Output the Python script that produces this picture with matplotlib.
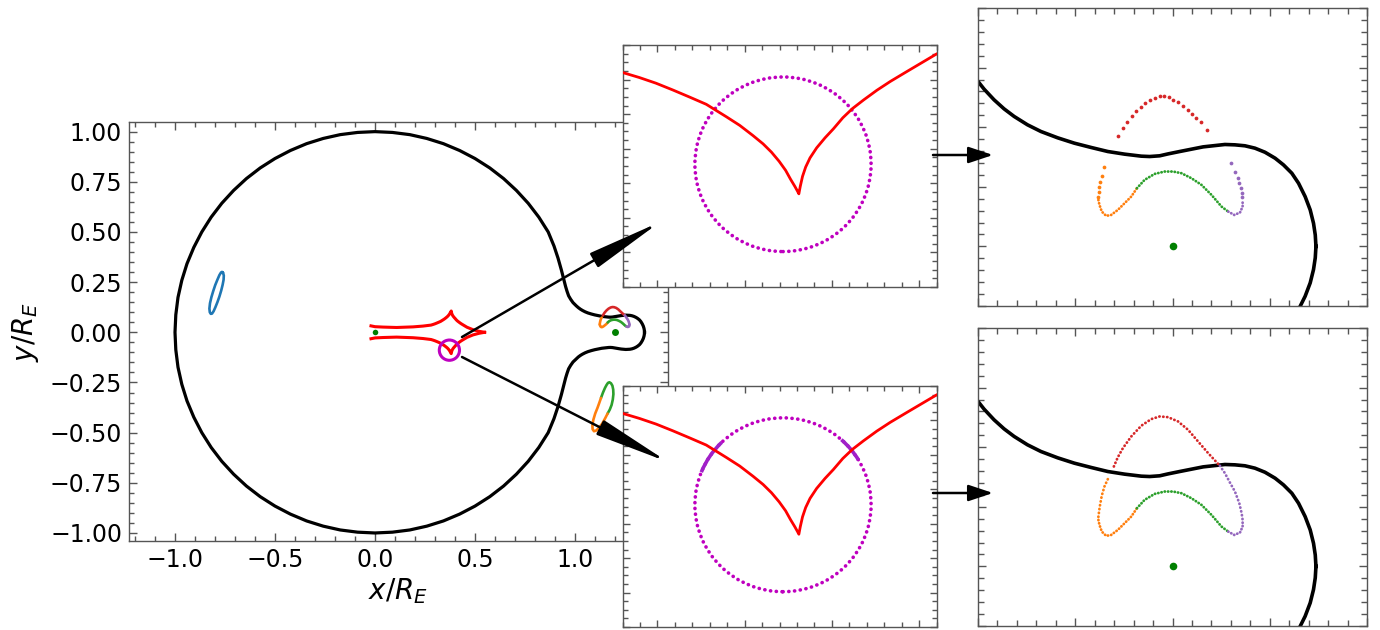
import matplotlib
matplotlib.use('Agg')
import matplotlib.pyplot as plt
from matplotlib.patches import Circle, Arc, FancyArrowPatch
from matplotlib.ticker import MultipleLocator

# ---------------- data ----------------
# critical curve, upper half (lower half is its mirror image about y=0)
crit_upper_x = [1.3475, 1.3468, 1.3450, 1.3416, 1.3364, 1.3296, 1.3227, 1.3141, 1.3055,
                1.2951, 1.2848, 1.2745, 1.2642, 1.2539, 1.2436, 1.2315, 1.2195, 1.2074,
                1.1954, 1.1868, 1.1765, 1.1679, 1.1507, 1.1335, 1.1163, 1.0991, 1.0819,
                1.0647, 1.0509, 1.0372, 1.0268, 1.0165, 1.0062, 1.0000, 0.990, 0.978,
                0.968, 0.960, 0.953, 0.946, 0.932, 0.915, 0.895, 0.866,
                0.819, 0.766, 0.707, 0.643, 0.574, 0.500, 0.423, 0.342, 0.259, 0.174,
                0.087, 0.0, -0.087, -0.174, -0.259, -0.342, -0.423, -0.500, -0.574,
                -0.643, -0.707, -0.766, -0.819, -0.866, -0.906, -0.940, -0.966, -0.985,
                -0.996, -1.0]
crit_upper_y = [0.0, 0.0096, 0.0194, 0.0306, 0.0418, 0.0530, 0.0614, 0.0684, 0.0740,
                0.0790, 0.0824, 0.0844, 0.0852, 0.0855, 0.0846, 0.0835, 0.0816, 0.0796,
                0.0776, 0.0760, 0.0754, 0.0757, 0.0774, 0.0796, 0.0830, 0.0866, 0.0911,
                0.0964, 0.1020, 0.1090, 0.1154, 0.1230, 0.1320, 0.1384, 0.148, 0.165,
                0.182, 0.205, 0.228, 0.255, 0.310, 0.370, 0.430, 0.500,
                0.574, 0.643, 0.707, 0.766, 0.819, 0.866, 0.906, 0.940, 0.966, 0.985,
                0.996, 1.0, 0.996, 0.985, 0.966, 0.940, 0.906, 0.866, 0.819,
                0.766, 0.707, 0.643, 0.574, 0.500, 0.423, 0.342, 0.259, 0.174,
                0.087, 0.0]

# caustic, lower half (upper half is its mirror image)
caus_low_x = [-0.020, 0.000, 0.040, 0.108, 0.190, 0.240, 0.2800, 0.2896, 0.2992, 0.3088,
              0.3184, 0.3280, 0.3395, 0.3472, 0.3548, 0.3606, 0.3654, 0.3698, 0.3735,
              0.3763, 0.3788, 0.3804, 0.3811, 0.3819, 0.3832, 0.3850, 0.3875, 0.3913,
              0.3961, 0.4009, 0.4063, 0.4118, 0.4182, 0.4258, 0.4335, 0.4431, 0.4518,
              0.4600, 0.4900, 0.5200, 0.5480]
caus_low_y = [-0.032, -0.028, -0.026, -0.024, -0.027, -0.031, -0.0359, -0.0388, -0.0421,
              -0.0460, -0.0501, -0.0543, -0.0615, -0.0665, -0.0724, -0.0772, -0.0820,
              -0.0873, -0.0925, -0.0976, -0.1018, -0.1047, -0.1061, -0.1018, -0.0960,
              -0.0906, -0.0853, -0.0795, -0.0737, -0.0685, -0.0621, -0.0568, -0.0518,
              -0.0462, -0.0411, -0.0353, -0.0301, -0.0252, -0.013, -0.005, 0.0]

# source circle
src_center = (0.372, -0.089)
src_radius = 0.0505
# extra-sampled arcs of the source circle (degrees)
src_arcs = [(134, 158), (31, 48.5)]

# lens positions
host_xy = (0.0, 0.0)
planet_xy = (1.2, 0.0)

# images: uniform sampling (sparse dots)
red_u_x = [1.1438, 1.1490, 1.1534, 1.1582, 1.1627, 1.1672, 1.1720, 1.1765, 1.1816, 1.1868,
           1.1913, 1.1961, 1.2009, 1.2057, 1.2109, 1.2160, 1.2202, 1.2246, 1.2291, 1.2350]
red_u_y = [0.0922, 0.0992, 0.1045, 0.1090, 0.1132, 0.1168, 0.1202, 0.1224, 0.1247, 0.1258,
           0.1258, 0.1250, 0.1230, 0.1208, 0.1180, 0.1146, 0.1112, 0.1076, 0.1040, 0.0978]
orange_u_x = [1.1300, 1.1273, 1.1259, 1.1249, 1.1242, 1.1238]
orange_u_y = [0.0670, 0.0594, 0.0544, 0.0502, 0.0460, 0.0418]
purple_u_x = [1.2601, 1.2642, 1.2670, 1.2687, 1.2700, 1.2711, 1.2718]
purple_u_y = [0.0698, 0.0628, 0.0572, 0.0530, 0.0488, 0.0450, 0.0418]

# images: parts common to both samplings (dense)
orange_d_x = [1.1238, 1.1249, 1.1273, 1.1318, 1.1369, 1.1438, 1.1507, 1.1576, 1.1634]
orange_d_y = [0.0390, 0.0348, 0.0292, 0.0256, 0.0264, 0.0306, 0.0362, 0.0418, 0.0488]
green_x = [1.1634, 1.1713, 1.1816, 1.1920, 1.2006, 1.2092, 1.2195, 1.2298, 1.2401, 1.2504, 1.2573]
green_y = [0.0488, 0.0558, 0.0608, 0.0628, 0.0628, 0.0614, 0.0572, 0.0516, 0.0432, 0.0334, 0.0292]
purple_d_x = [1.2573, 1.2635, 1.2694, 1.2721, 1.2721]
purple_d_y = [0.0292, 0.0264, 0.0284, 0.0334, 0.0390]

# images: adaptive sampling (denser near caustic crossings)
red_a_x = [1.1397, 1.1438, 1.1490, 1.1576, 1.1679, 1.1782, 1.1868, 1.1954, 1.2057, 1.2160,
           1.2263, 1.2367, 1.2487]
red_a_y = [0.0838, 0.0916, 0.0992, 0.1090, 0.1180, 0.1236, 0.1258, 0.1252, 0.1216, 0.1146,
           0.1048, 0.0950, 0.0844]
purple_a_x = [1.2487, 1.2539, 1.2590, 1.2642, 1.2687, 1.2711, 1.2721]
purple_a_y = [0.0844, 0.0782, 0.0704, 0.0628, 0.0530, 0.0446, 0.0390]
orange_a_x = [1.1335, 1.1300, 1.1273, 1.1252, 1.1238, 1.1238]
orange_a_y = [0.0732, 0.0670, 0.0594, 0.0502, 0.0418, 0.0390]

# far images (main panel only)
ell_green_x = [1.130, 1.140, 1.150, 1.158, 1.165, 1.172, 1.180, 1.187, 1.191, 1.192,
               1.189, 1.183, 1.174, 1.163]
ell_green_y = [-0.327, -0.300, -0.277, -0.262, -0.252, -0.249, -0.254, -0.266, -0.285,
               -0.308, -0.335, -0.362, -0.385, -0.405]
ell_orange_x = [1.163, 1.150, 1.136, 1.120, 1.105, 1.095, 1.088, 1.087, 1.092, 1.101,
                1.113, 1.122, 1.130]
ell_orange_y = [-0.405, -0.430, -0.455, -0.476, -0.490, -0.493, -0.483, -0.462, -0.435,
                -0.405, -0.375, -0.350, -0.327]
blue_x = [-0.760, -0.756, -0.757, -0.762, -0.769, -0.778, -0.788, -0.798, -0.807, -0.815,
          -0.821, -0.826, -0.828, -0.825, -0.818, -0.809, -0.799, -0.788, -0.778, -0.770,
          -0.765, -0.760]
blue_y = [0.297, 0.283, 0.262, 0.236, 0.208, 0.178, 0.150, 0.125, 0.105, 0.093,
          0.092, 0.100, 0.118, 0.145, 0.175, 0.205, 0.235, 0.262, 0.285, 0.298,
          0.301, 0.297]

# ---------------- derived full curves ----------------
crit_x = crit_upper_x + crit_upper_x[::-1][1:]
crit_y = crit_upper_y + [-v for v in crit_upper_y[::-1][1:]]
caus_up_x = caus_low_x
caus_up_y = [-v for v in caus_low_y]

C_RED, C_OR, C_GR, C_PU, C_BL = '#d62728', '#ff7f0e', '#2ca02c', '#9467bd', '#1f77b4'
SPINE = '#555555'

W, H = 1380, 630
fig = plt.figure(figsize=(W / 100, H / 100), dpi=100)


def box(l, t, r, b):
    return [l / W, 1 - b / H, (r - l) / W, (b - t) / H]


def style(a, xmaj, xmin, ymaj, ymin, lmaj, lmin, labels=False):
    a.xaxis.set_major_locator(MultipleLocator(xmaj))
    a.xaxis.set_minor_locator(MultipleLocator(xmin))
    a.yaxis.set_major_locator(MultipleLocator(ymaj))
    a.yaxis.set_minor_locator(MultipleLocator(ymin))
    a.tick_params(which='both', direction='in', top=True, right=True,
                  color=SPINE, width=1.0)
    a.tick_params(which='major', length=lmaj)
    a.tick_params(which='minor', length=lmin)
    if not labels:
        a.tick_params(which='both', labelbottom=False, labelleft=False)
    for s in a.spines.values():
        s.set_color(SPINE)
        s.set_linewidth(1.0)


def dotted(a, x, y, c, lw=2.0, gap=1.1, z=3):
    a.plot(x, y, color=c, lw=lw, ls=(0, (0.1, gap)), dash_capstyle='round', zorder=z)


# ---------------- main panel ----------------
ax = fig.add_axes(box(129, 122, 668, 541))
ax.plot(crit_x, crit_y, color='k', lw=2.3, zorder=2, solid_joinstyle='round')
ax.plot(caus_low_x, caus_low_y, color='r', lw=2.2, zorder=3)
ax.plot(caus_up_x, caus_up_y, color='r', lw=2.2, zorder=3)
ax.add_patch(Circle(src_center, src_radius, fill=False, ec='m', lw=2.2, zorder=4))
ax.plot(*host_xy, 'o', color='g', ms=4, mew=0, zorder=5)
ax.plot(*planet_xy, 'o', color='g', ms=5, mew=0, zorder=5)
for xs, ys, c in [(red_a_x, red_a_y, C_RED), (orange_a_x, orange_a_y, C_OR),
                  (orange_d_x, orange_d_y, C_OR), (green_x, green_y, C_GR),
                  (purple_d_x, purple_d_y, C_PU), (purple_a_x, purple_a_y, C_PU),
                  (ell_green_x, ell_green_y, C_GR), (ell_orange_x, ell_orange_y, C_OR),
                  (blue_x, blue_y, C_BL)]:
    ax.plot(xs, ys, color=c, lw=1.9, zorder=4, solid_capstyle='round',
            solid_joinstyle='round')
ax.set_xlim(-1.23, 1.465)
ax.set_ylim(-1.04, 1.048)
style(ax, 0.5, 0.1, 0.25, 0.05, 6, 3.5, labels=True)
ax.tick_params(labelsize=17, pad=5)
ax.set_xlabel('$x/R_E$', fontsize=20, labelpad=3)
ax.set_ylabel('$y/R_E$', fontsize=20, labelpad=6)

# ---------------- middle insets (caustic + source) ----------------
for k, (t, b) in enumerate([(45, 287), (386, 627)]):
    am = fig.add_axes(box(622.5, t, 936.5, b))
    am.plot(caus_low_x, caus_low_y, color='r', lw=2.0, zorder=3, solid_joinstyle='round')
    am.add_patch(Circle(src_center, src_radius, fill=False, ec='m', lw=2.6,
                        ls=(0, (0.05, 1.55)), capstyle='round', zorder=2))
    if k == 1:
        for th1, th2 in src_arcs:
            am.add_patch(Arc(src_center, 2 * src_radius, 2 * src_radius, theta1=th1,
                             theta2=th2, ec='#a020c8', lw=2.6, zorder=2))
    am.set_xlim(0.28, 0.46)
    am.set_ylim(-0.16, -0.02)
    style(am, 0.05, 0.01, 0.02, 0.005, 5, 3.5)

# ---------------- right insets (images) ----------------
for k, (t, b) in enumerate([(8, 306), (328, 626)]):
    ar = fig.add_axes(box(978, t, 1367, b))
    ar.plot(crit_x, crit_y, color='k', lw=2.6, zorder=2, solid_joinstyle='round')
    ar.plot(*planet_xy, 'o', color='g', ms=5.5, mew=0, zorder=5)
    dotted(ar, orange_d_x, orange_d_y, C_OR)
    dotted(ar, green_x, green_y, C_GR)
    dotted(ar, purple_d_x, purple_d_y, C_PU)
    if k == 0:
        ar.plot(red_u_x, red_u_y, 'o', color=C_RED, ms=2.7, mew=0, zorder=3)
        ar.plot(orange_u_x, orange_u_y, 'o', color=C_OR, ms=2.7, mew=0, zorder=3)
        ar.plot(purple_u_x, purple_u_y, 'o', color=C_PU, ms=2.7, mew=0, zorder=3)
    else:
        dotted(ar, red_a_x, red_a_y, C_RED, gap=1.3)
        dotted(ar, orange_a_x, orange_a_y, C_OR, gap=1.3)
        dotted(ar, purple_a_x, purple_a_y, C_PU, gap=1.3)
    ar.set_xlim(1.0, 1.4)
    ar.set_ylim(-0.05, 0.2)
    style(ar, 0.1, 0.02, 0.05, 0.01, 5.5, 4)

# ---------------- arrows ----------------
def fp(px, py):
    return (px / W, 1 - py / H)


arrows = [((462, 337), (660, 222), 4.6, 0.5),
          ((462, 357), (668, 462), 4.6, 0.5),
          ((933, 155), (993, 155), 1.5, 0.5),
          ((933, 493), (993, 493), 1.5, 0.5)]
for a, b, hl, hw in arrows:
    fig.add_artist(FancyArrowPatch(fp(*a), fp(*b), transform=fig.transFigure,
                                   arrowstyle=f'-|>,head_length={hl},head_width={hw}',
                                   mutation_scale=10, lw=1.8, color='k',
                                   shrinkA=0, shrinkB=0, zorder=10))

fig.savefig('out.png', dpi=100)
